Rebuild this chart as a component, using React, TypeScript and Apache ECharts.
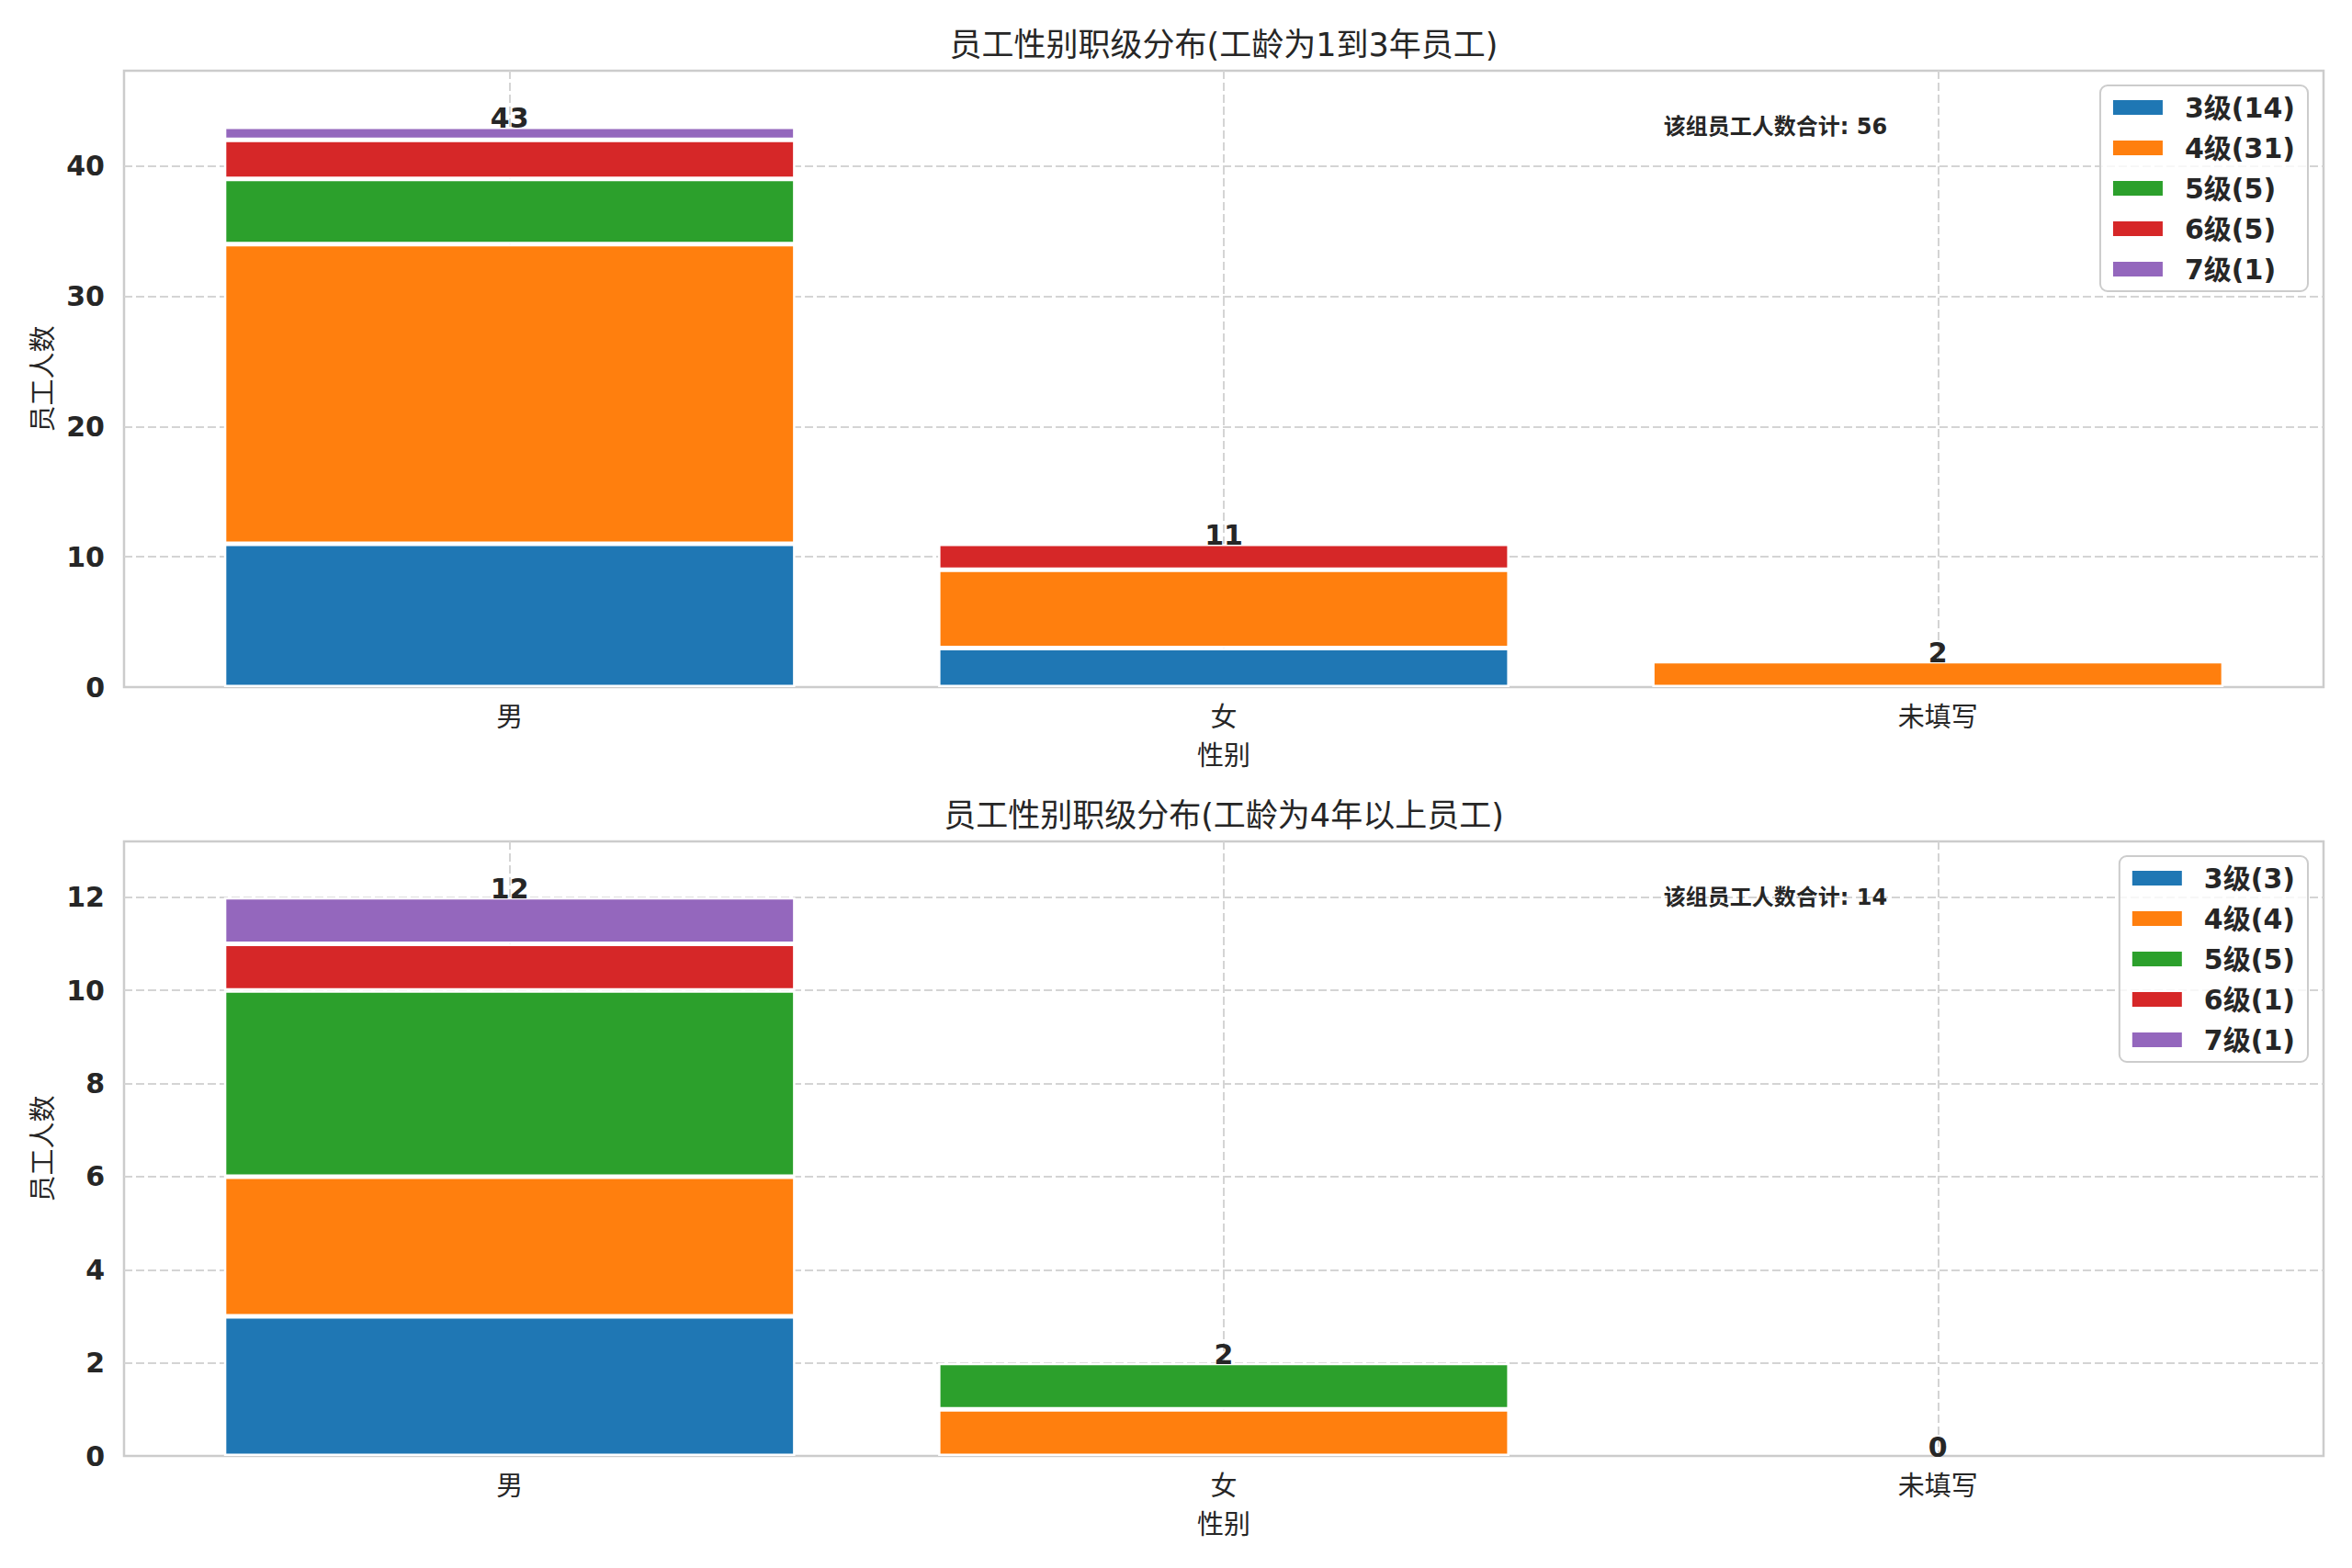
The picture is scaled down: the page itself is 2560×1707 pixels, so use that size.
import React, { useEffect, useRef } from "react";
import * as echarts from "echarts";

const categories = ["男", "女", "未填写"];
const levels = ["3级", "4级", "5级", "6级", "7级"];
const colors = ["#1f77b4", "#ff7f0e", "#2ca02c", "#d62728", "#9467bd"];

// top panel: 工龄 1-3 年
const top3 = [11, 3, 0];
const top4 = [23, 6, 2];
const top5 = [5, 0, 0];
const top6 = [3, 2, 0];
const top7 = [1, 0, 0];

// bottom panel: 工龄 4 年以上
const bot3 = [3, 0, 0];
const bot4 = [3, 1, 0];
const bot5 = [4, 1, 0];
const bot6 = [1, 0, 0];
const bot7 = [1, 0, 0];

const titles = [
  "员工性别职级分布(工龄为1到3年员工)",
  "员工性别职级分布(工龄为4年以上员工)",
];
const xName = "性别";
const yName = "员工人数";
const notePrefix = "该组员工人数合计";
const yMaxes = [47.3, 13.2];
const yIntervals = [10, 2];

const FONT = "'DejaVu Sans', 'Noto Sans CJK SC', sans-serif";
const TXT = "#262626";
const GRIDC = "#d4d4d4";

const sum = (a: number[]) => a.reduce((s, v) => s + v, 0);

export default function App() {
  const ref = useRef<HTMLDivElement>(null);
  useEffect(() => {
    if (!ref.current) return;
    const chart = echarts.init(ref.current, null, { renderer: "svg" });

    const panels = [
      { rows: [top3, top4, top5, top6, top7], top: 77, height: 671 },
      { rows: [bot3, bot4, bot5, bot6, bot7], top: 916, height: 669 },
    ];
    const frameLeft = 135;
    const frameWidth = 2394;
    // matplotlib x-range: -0.54 .. 2.54
    const unit = frameWidth / 3.08;
    const barLeft = frameLeft + 0.54 * unit;
    const barSpan = 2 * unit;

    const grid: any[] = [];
    const xAxis: any[] = [];
    const yAxis: any[] = [];
    const series: any[] = [];
    const legend: any[] = [];
    const title: any[] = [];
    const graphic: any[] = [];

    panels.forEach((p, pi) => {
      const gFrame = pi * 2;
      const gBar = pi * 2 + 1;
      grid.push({
        left: frameLeft,
        top: p.top,
        width: frameWidth,
        height: p.height,
        show: true,
        borderColor: "#cccccc",
        borderWidth: 2.5,
        backgroundColor: "transparent",
        z: 0,
      });
      grid.push({
        left: barLeft,
        top: p.top,
        width: barSpan,
        height: p.height,
        show: false,
      });
      xAxis.push({
        gridIndex: gFrame,
        type: "value",
        min: 0,
        max: 1,
        show: false,
      });
      xAxis.push({
        gridIndex: gBar,
        type: "category",
        data: categories,
        boundaryGap: false,
        axisLine: { show: false },
        axisTick: { show: false },
        axisLabel: {
          fontSize: 29,
          color: TXT,
          fontFamily: FONT,
          margin: 18,
        },
        splitLine: {
          show: true,
          lineStyle: { color: GRIDC, width: 2, type: [9, 4] },
        },
        name: xName,
        nameLocation: "middle",
        nameGap: 60,
        nameTextStyle: { fontSize: 29, color: TXT, fontFamily: FONT },
      });
      yAxis.push({
        gridIndex: gFrame,
        type: "value",
        min: 0,
        max: yMaxes[pi],
        interval: yIntervals[pi],
        axisLine: { show: false },
        axisTick: { show: false },
        axisLabel: {
          fontSize: 30,
          fontWeight: "bold",
          color: TXT,
          fontFamily: FONT,
          margin: 21,
          showMaxLabel: false,
        },
        splitLine: {
          show: true,
          showMinLine: false,
          showMaxLine: false,
          lineStyle: { color: GRIDC, width: 2, type: [9, 4] },
        },
        name: yName,
        nameLocation: "middle",
        nameGap: 74,
        nameRotate: 90,
        nameTextStyle: { fontSize: 29, color: TXT, fontFamily: FONT },
      });
      yAxis.push({
        gridIndex: gBar,
        type: "value",
        min: 0,
        max: yMaxes[pi],
        show: false,
      });

      const names: string[] = [];
      p.rows.forEach((row, li) => {
        const nm = `${levels[li]}(${sum(row)})`;
        names.push(nm);
        series.push({
          type: "bar",
          name: nm,
          xAxisIndex: gBar,
          yAxisIndex: gBar,
          stack: "s" + pi,
          barWidth: unit * 0.8,
          clip: false,
          data: row.map((v) => (v === 0 ? null : v)),
          itemStyle: { color: colors[li], borderColor: "#ffffff", borderWidth: 2.5 },
          z: 3,
        });
      });
      const totals = categories.map((_, ci) => sum(p.rows.map((r) => r[ci])));
      series.push({
        type: "scatter",
        name: "total" + pi,
        xAxisIndex: gBar,
        yAxisIndex: gBar,
        symbol: "circle",
        symbolSize: 0.1,
        clip: false,
        silent: true,
        itemStyle: { color: "#ffffff", opacity: 1 },
        data: totals,
        label: {
          show: true,
          position: "top",
          distance: -6,
          fontSize: 30,
          fontWeight: "bold",
          color: TXT,
          opacity: 1,
          fontFamily: FONT,
        },
        z: 5,
      });

      legend.push({
        data: names,
        orient: "vertical",
        right: 48,
        top: p.top + 16,
        icon: "rect",
        itemWidth: 56,
        itemHeight: 18,
        itemGap: 10,
        padding: [7, 14, 7, 12],
        borderColor: "#cccccc",
        borderWidth: 2,
        borderRadius: 8,
        backgroundColor: "rgba(255,255,255,0.8)",
        selectedMode: false,
        textStyle: {
          fontSize: 30,
          fontWeight: "bold",
          color: TXT,
          fontFamily: FONT,
          lineHeight: 34,
          padding: [0, 0, 0, 18],
        },
        z: 10,
      });

      title.push({
        text: titles[pi],
        left: frameLeft + frameWidth / 2,
        textAlign: "center",
        top: p.top - 48,
        padding: 0,
        textStyle: {
          fontSize: 35,
          fontWeight: "normal",
          color: TXT,
          fontFamily: FONT,
          lineHeight: 40,
        },
      });

      const grand = sum(totals);
      graphic.push({
        type: "text",
        left: frameLeft + 0.7 * frameWidth,
        top: p.top + p.height * 0.1 - 18,
        style: {
          text: `${notePrefix}: ${grand}`,
          font: `bold 24px ${FONT}`,
          fill: TXT,
        },
        z: 10,
      });
    });

    chart.setOption({
      animation: false,
      backgroundColor: "#ffffff",
      textStyle: { fontFamily: FONT },
      title,
      grid,
      xAxis,
      yAxis,
      series,
      legend,
      graphic,
    });
    return () => chart.dispose();
  }, []);

  return (
    <div
      ref={ref}
      style={{ position: "absolute", left: 0, top: 0, width: 2560, height: 1707 }}
    />
  );
}
